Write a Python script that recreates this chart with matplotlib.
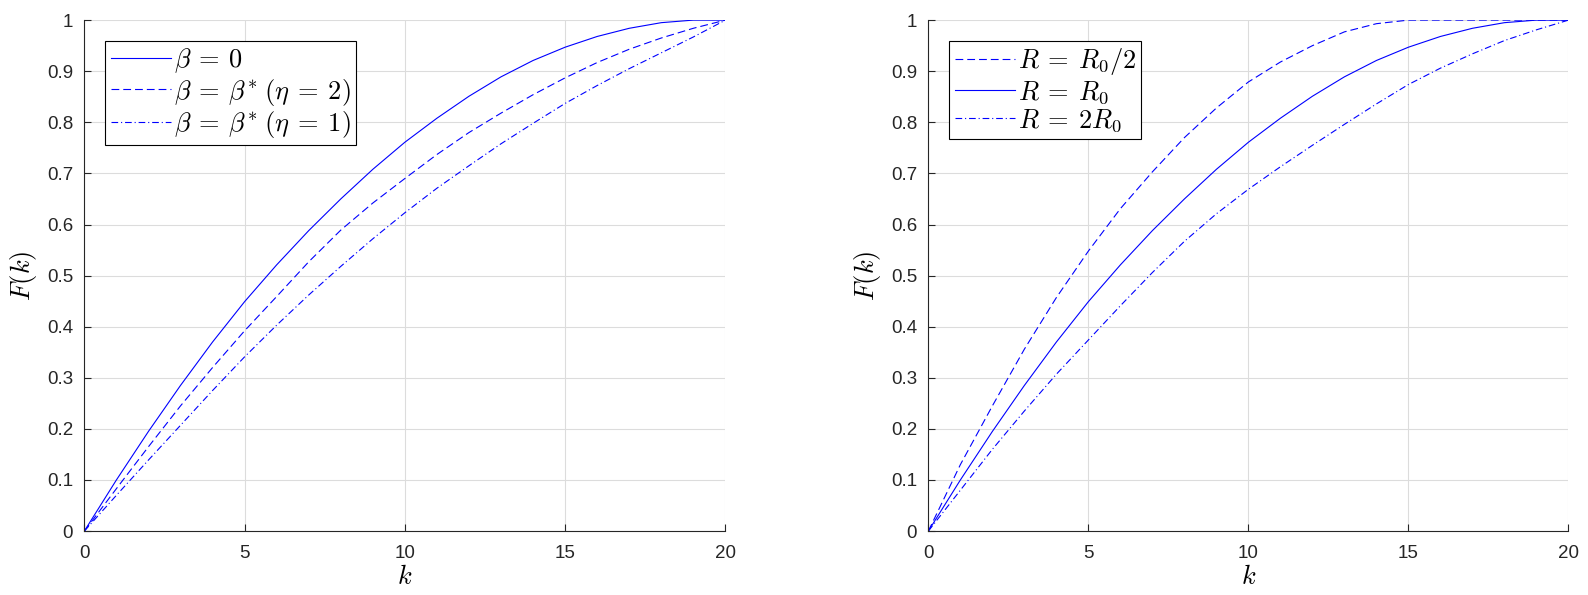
import matplotlib
matplotlib.use('Agg')
from matplotlib import pyplot as plt
import numpy as np

# values at k = 0..20
k = np.arange(0, 21)

beta_0 = [0, 0.100, 0.195, 0.285, 0.370, 0.449, 0.521, 0.588, 0.650, 0.708, 0.761,
          0.808, 0.851, 0.889, 0.921, 0.947, 0.968, 0.984, 0.995, 1.0, 1.0]
beta_eta2 = [0, 0.083, 0.165, 0.245, 0.320, 0.392, 0.459, 0.527, 0.589, 0.642, 0.690,
             0.737, 0.780, 0.818, 0.854, 0.887, 0.917, 0.943, 0.965, 0.984, 1.0]
beta_eta1 = [0, 0.070, 0.139, 0.207, 0.275, 0.341, 0.403, 0.462, 0.518, 0.572, 0.623,
             0.671, 0.715, 0.758, 0.798, 0.837, 0.872, 0.905, 0.936, 0.967, 1.0]

r_half = [0, 0.130, 0.245, 0.356, 0.457, 0.548, 0.631, 0.703, 0.770, 0.828, 0.879,
          0.918, 0.950, 0.977, 0.993, 1.0, 1.0, 1.0, 1.0, 1.0, 1.0]
r_one = [0, 0.100, 0.195, 0.285, 0.370, 0.449, 0.521, 0.588, 0.650, 0.708, 0.761,
         0.808, 0.851, 0.889, 0.921, 0.947, 0.968, 0.984, 0.995, 1.0, 1.0]
r_two = [0, 0.080, 0.160, 0.235, 0.307, 0.374, 0.441, 0.506, 0.567, 0.621, 0.669,
         0.713, 0.755, 0.796, 0.836, 0.874, 0.906, 0.934, 0.960, 0.981, 1.0]

left_labels = [r'$\beta\:=\:0$', r'$\beta\:=\:\beta^{*}\;(\eta\:=\:2)$',
               r'$\beta\:=\:\beta^{*}\;(\eta\:=\:1)$']
right_labels = [r'$R\:=\:R_0/2$', r'$R\:=\:R_0$', r'$R\:=\:2R_0$']

xticks = [0, 5, 10, 15, 20]
yticks = np.round(np.arange(0, 1.01, 0.1), 1)
ytick_labels = ['0'] + ['%.1f' % v for v in yticks[1:-1]] + ['1']

plt.rcParams['mathtext.fontset'] = 'cm'
plt.rcParams['font.family'] = ['Liberation Sans', 'DejaVu Sans']

blue = (0, 0, 1)
lw = 0.8
solid = dict(color=blue, lw=lw, linestyle='-')
dash = dict(color=blue, lw=lw, dashes=[7, 3.6])
dashdot = dict(color=blue, lw=lw, dashes=[6, 2.6, 1, 2.6])

fig = plt.figure(figsize=(15.88, 5.95), dpi=100)
ax1 = fig.add_axes([0.0531, 0.1074, 0.4037, 0.8588])
ax2 = fig.add_axes([0.5846, 0.1074, 0.4031, 0.8588])

ax1.plot(k, beta_0, label=left_labels[0], **solid)
ax1.plot(k, beta_eta2, label=left_labels[1], **dash)
ax1.plot(k, beta_eta1, label=left_labels[2], **dashdot)

ax2.plot(k, r_half, label=right_labels[0], **dash)
ax2.plot(k, r_one, label=right_labels[1], **solid)
ax2.plot(k, r_two, label=right_labels[2], **dashdot)

for ax in (ax1, ax2):
    ax.set_xlim(0, 20)
    ax.set_ylim(0, 1)
    ax.set_xticks(xticks)
    ax.set_xticklabels([str(x) for x in xticks])
    ax.set_yticks(yticks)
    ax.set_yticklabels(ytick_labels)
    ax.grid(True, color='#dcdcdc', lw=0.8)
    ax.set_axisbelow(True)
    ax.spines['top'].set_visible(False)
    ax.spines['right'].set_visible(False)
    ax.spines['left'].set_color('#262626')
    ax.spines['bottom'].set_color('#262626')
    ax.tick_params(direction='in', length=5, width=0.8, colors='#262626',
                   labelsize=13.5)
    ax.tick_params(axis='x', pad=10)
    ax.tick_params(axis='y', pad=8)
    ax.set_xlabel(r'$k$', fontsize=19, labelpad=2)
    ax.set_ylabel(r'$F(k)$', fontsize=19, labelpad=6)
    leg = ax.legend(loc='upper left', fontsize=19, frameon=True, fancybox=False,
                    edgecolor='black', framealpha=1, handlelength=2.3,
                    handletextpad=0.1, labelspacing=0.05, borderpad=0.2,
                    borderaxespad=0.8)
    leg.get_frame().set_linewidth(0.8)

fig.savefig('out.png', dpi=100)
